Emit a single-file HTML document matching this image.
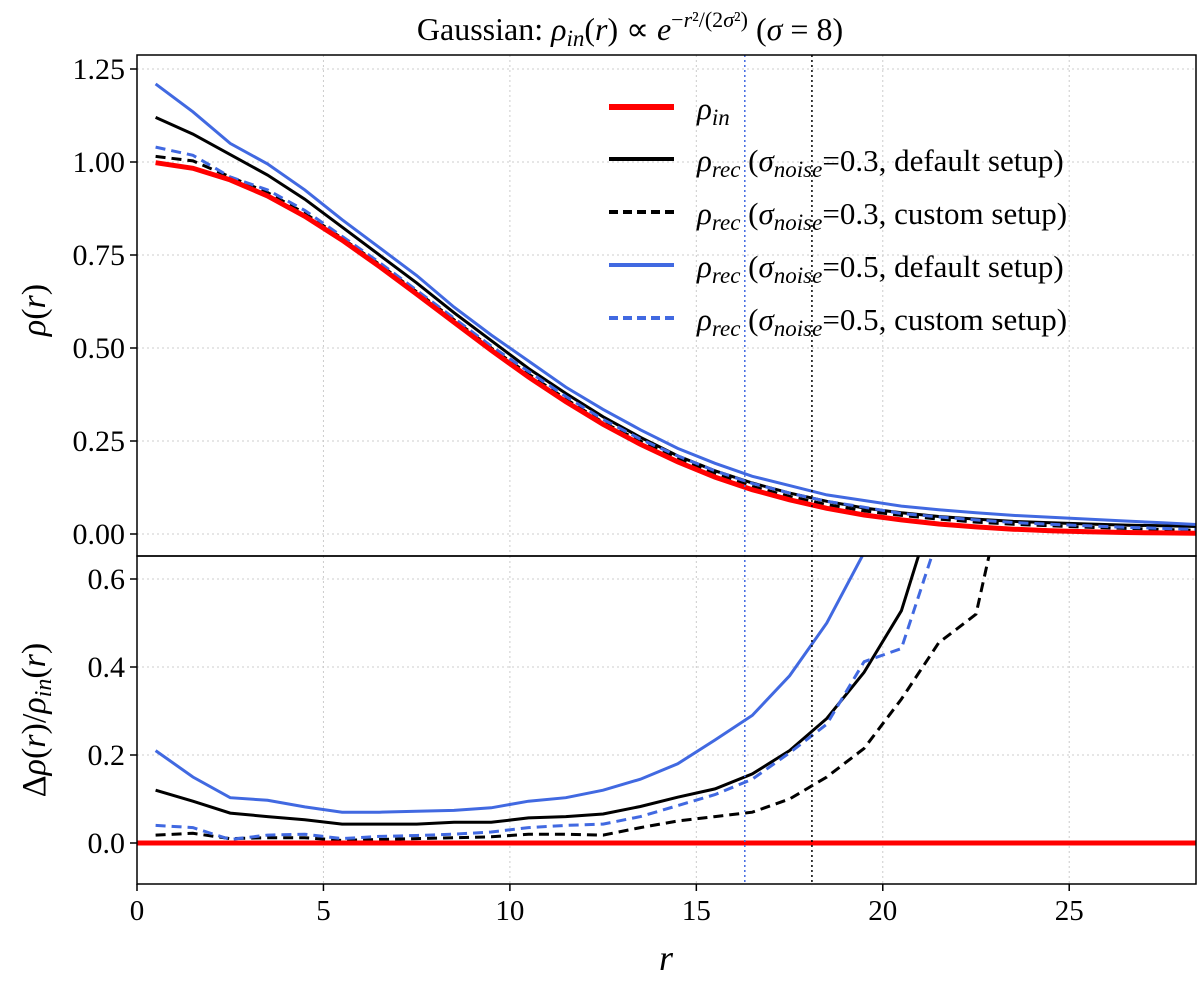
<!DOCTYPE html>
<html><head><meta charset="utf-8"><style>
html,body{margin:0;padding:0;background:#fff;}
svg{display:block;font-family:"Liberation Serif",serif;}
</style></head><body>
<svg id="chart" width="1200" height="983" viewBox="0 0 1200 983">
<defs>
<clipPath id="clipTop"><rect x="137" y="55" width="1059" height="501"/></clipPath>
<clipPath id="clipBot"><rect x="137" y="556" width="1059" height="328"/></clipPath>
</defs>
<text x="630" y="40" font-size="32" text-anchor="middle">Gaussian: <tspan font-style="italic">ρ<tspan font-size="23" dy="6">in</tspan></tspan><tspan dy="-6">(</tspan><tspan font-style="italic">r</tspan>) ∝ <tspan font-style="italic">e</tspan><tspan font-size="22" dy="-13">−<tspan font-style="italic">r</tspan>²/(2<tspan font-style="italic">σ</tspan>²)</tspan><tspan dy="13"> (</tspan><tspan font-style="italic">σ</tspan> = 8)</text>
<g id="gridTop"></g>
<g id="gridBot"></g>
<g id="topPanel" clip-path="url(#clipTop)"></g>
<g id="botPanel" clip-path="url(#clipBot)"></g>
<g id="axes"></g>
<text x="45" y="310" font-size="34" text-anchor="middle" transform="rotate(-90 45 310)"><tspan font-style="italic">ρ</tspan>(<tspan font-style="italic">r</tspan>)</text>
<text x="45" y="720" font-size="34" text-anchor="middle" transform="rotate(-90 45 720)">Δ<tspan font-style="italic">ρ</tspan>(<tspan font-style="italic">r</tspan>)/<tspan font-style="italic">ρ</tspan><tspan font-style="italic" font-size="24" dy="6">in</tspan><tspan dy="-6">(</tspan><tspan font-style="italic">r</tspan>)</text>
<text x="666" y="970" font-size="36" text-anchor="middle" font-style="italic">r</text>
<g id="legend"></g>
</svg>
<script>
const rVals=[0.5,1.5,2.5,3.5,4.5,5.5,6.5,7.5,8.5,9.5,10.5,11.5,12.5,13.5,14.5,15.5,16.5,17.5,18.5,19.5,20.5,21.5,22.5,23.5,24.5,25.5,26.5,27.5,28.5];
const rhoIn=[0.998,0.983,0.952,0.909,0.854,0.790,0.719,0.645,0.569,0.494,0.422,0.356,0.295,0.241,0.194,0.153,0.119,0.092,0.069,0.051,0.038,0.027,0.019,0.013,0.009,0.006,0.004,0.003,0.002];
const recBlackDef=[1.12,1.075,1.02,0.965,0.90,0.825,0.75,0.675,0.595,0.52,0.445,0.378,0.315,0.26,0.21,0.17,0.137,0.11,0.088,0.07,0.057,0.047,0.04,0.034,0.03,0.027,0.024,0.022,0.02];
const recBlackCus=[1.015,1.003,0.96,0.918,0.862,0.795,0.725,0.651,0.576,0.5,0.43,0.363,0.3,0.25,0.203,0.162,0.128,0.101,0.079,0.062,0.05,0.04,0.032,0.026,0.022,0.018,0.015,0.012,0.01];
const recBlueDef=[1.21,1.135,1.05,0.995,0.925,0.845,0.77,0.695,0.61,0.535,0.465,0.395,0.335,0.28,0.23,0.19,0.155,0.13,0.105,0.09,0.075,0.065,0.057,0.05,0.045,0.04,0.035,0.03,0.025];
const recBlueCus=[1.04,1.018,0.96,0.925,0.87,0.8,0.73,0.655,0.58,0.505,0.437,0.37,0.308,0.255,0.21,0.17,0.136,0.11,0.088,0.072,0.055,0.046,0.038,0.031,0.026,0.022,0.018,0.015,0.012];
const errBlackDef=[0.12,0.095,0.068,0.06,0.053,0.043,0.043,0.043,0.047,0.047,0.057,0.06,0.066,0.083,0.104,0.123,0.157,0.21,0.283,0.388,0.528,0.8,1.0,1.3,1.6,2,2.5,3,3.5];
const errBlackCus=[0.018,0.022,0.01,0.012,0.012,0.006,0.008,0.01,0.012,0.014,0.02,0.02,0.018,0.035,0.05,0.06,0.07,0.1,0.15,0.215,0.327,0.455,0.52,0.9,1.2,1.6,2,2.5,3];
const errBlueDef=[0.21,0.15,0.103,0.097,0.082,0.07,0.07,0.072,0.074,0.08,0.095,0.103,0.12,0.145,0.18,0.234,0.29,0.38,0.5,0.66,1.0,1.4,1.9,2.5,3,4,5,6,7];
const errBlueCus=[0.04,0.035,0.008,0.018,0.02,0.01,0.015,0.017,0.02,0.025,0.035,0.04,0.043,0.06,0.085,0.11,0.145,0.205,0.27,0.412,0.442,0.7,1.0,1.3,1.7,2.2,2.8,3.5,4];
const errIn=rVals.map(()=>0);
const xTicks=[0,5,10,15,20,25];
const yTopTicks=[0,0.25,0.5,0.75,1.0,1.25];
const yTopLabels=["0.00","0.25","0.50","0.75","1.00","1.25"];
const yBotTicks=[0,0.2,0.4,0.6];
const yBotLabels=["0.0","0.2","0.4","0.6"];
const vlines=[[16.3,"#4169e1"],[18.1,"#000"]];

const NS="http://www.w3.org/2000/svg";
const L=137,R=1196,T=55,M=556,B=884;
const X=v=>L+v*(R-L)/28.4;
const YT=v=>534-v*372;
const YB=v=>843-v*440;
function mk(tag,attrs,parent){const e=document.createElementNS(NS,tag);for(const k in attrs)e.setAttribute(k,attrs[k]);parent.appendChild(e);return e;}
const gT=document.getElementById('gridTop'),gB=document.getElementById('gridBot'),ax=document.getElementById('axes');
const topG=document.getElementById('topPanel'),botG=document.getElementById('botPanel'),leg=document.getElementById('legend');
xTicks.forEach(t=>{
  let g1=mk('line',{x1:X(t),x2:X(t),y1:T,y2:M,stroke:'#ccc','stroke-dasharray':'2,3','stroke-width':1},gT);
  
  
  let g2=mk('line',{x1:X(t),x2:X(t),y1:M,y2:B,stroke:'#ccc','stroke-dasharray':'2,3','stroke-width':1},gB);
  
  
  let tk=mk('line',{x1:X(t),x2:X(t),y1:B,y2:B+7,stroke:'#000','stroke-width':1.5},ax);
  
  
  let tx=mk('text',{x:X(t),y:B+36,'font-size':29,'text-anchor':'middle'},ax);tx.textContent=t;
  
  
});
yTopTicks.forEach((t,i)=>{
  let g=mk('line',{x1:L,x2:R,y1:YT(t),y2:YT(t),stroke:'#ccc','stroke-dasharray':'2,3'},gT);
  
  
  let tk=mk('line',{x1:L-7,x2:L,y1:YT(t),y2:YT(t),stroke:'#000','stroke-width':1.5},ax);
  
  
  let tx=mk('text',{x:L-12,y:YT(t)+10,'font-size':30,'text-anchor':'end'},ax);tx.textContent=yTopLabels[i];
  
  
});
yBotTicks.forEach((t,i)=>{
  let g=mk('line',{x1:L,x2:R,y1:YB(t),y2:YB(t),stroke:'#ccc','stroke-dasharray':'2,3'},gB);
  
  
  let tk=mk('line',{x1:L-7,x2:L,y1:YB(t),y2:YB(t),stroke:'#000','stroke-width':1.5},ax);
  
  
  let tx=mk('text',{x:L-12,y:YB(t)+10,'font-size':30,'text-anchor':'end'},ax);tx.textContent=yBotLabels[i];
  
  
});
vlines.forEach(([v,c])=>{
  let a=mk('line',{x1:X(v),x2:X(v),y1:T,y2:B,stroke:c,'stroke-dasharray':'2,3','stroke-width':1.5},ax);
  
  
});
const series=[
 {top:rhoIn,err:errIn,c:'#ff0000',w:5,d:'',name:'rho-in'},
 {top:recBlackDef,err:errBlackDef,c:'#000',w:3,d:'',name:'rec-0.3-default'},
 {top:recBlackCus,err:errBlackCus,c:'#000',w:3,d:'10,6',name:'rec-0.3-custom'},
 {top:recBlueDef,err:errBlueDef,c:'#4169e1',w:3,d:'',name:'rec-0.5-default'},
 {top:recBlueCus,err:errBlueCus,c:'#4169e1',w:3,d:'10,6',name:'rec-0.5-custom'}
];
const drawOrder=[1,2,3,4,0];
drawOrder.forEach(i=>{
  const s=series[i];
  const pT=s.top.map((v,j)=>X(rVals[j]).toFixed(1)+','+YT(v).toFixed(1)).join(' ');
  let a=mk('polyline',{points:pT,fill:'none',stroke:s.c,'stroke-width':s.w,'stroke-dasharray':s.d},topG);
  
  
  const pB=(i===0)?(X(0)+','+YB(0)+' '+R+','+YB(0)):s.err.map((v,j)=>X(rVals[j]).toFixed(1)+','+YB(v).toFixed(1)).join(' ');
  let b=mk('polyline',{points:pB,fill:'none',stroke:s.c,'stroke-width':s.w,'stroke-dasharray':s.d},botG);
  
  
});
let f1=mk('rect',{x:L,y:T,width:R-L,height:M-T,fill:'none',stroke:'#000','stroke-width':1.5},ax);


let f2=mk('rect',{x:L,y:M,width:R-L,height:B-M,fill:'none',stroke:'#000','stroke-width':1.5},ax);


const legText=[
 '<tspan font-style="italic">ρ</tspan><tspan font-style="italic" font-size="23" dy="6">in</tspan>',
 '<tspan font-style="italic">ρ</tspan><tspan font-style="italic" font-size="23" dy="6">rec</tspan><tspan dy="-6"> (</tspan><tspan font-style="italic">σ</tspan><tspan font-style="italic" font-size="23" dy="6">noise</tspan><tspan dy="-6">=0.3, default setup)</tspan>',
 '<tspan font-style="italic">ρ</tspan><tspan font-style="italic" font-size="23" dy="6">rec</tspan><tspan dy="-6"> (</tspan><tspan font-style="italic">σ</tspan><tspan font-style="italic" font-size="23" dy="6">noise</tspan><tspan dy="-6">=0.3, custom setup)</tspan>',
 '<tspan font-style="italic">ρ</tspan><tspan font-style="italic" font-size="23" dy="6">rec</tspan><tspan dy="-6"> (</tspan><tspan font-style="italic">σ</tspan><tspan font-style="italic" font-size="23" dy="6">noise</tspan><tspan dy="-6">=0.5, default setup)</tspan>',
 '<tspan font-style="italic">ρ</tspan><tspan font-style="italic" font-size="23" dy="6">rec</tspan><tspan dy="-6"> (</tspan><tspan font-style="italic">σ</tspan><tspan font-style="italic" font-size="23" dy="6">noise</tspan><tspan dy="-6">=0.5, custom setup)</tspan>'
];
const legY=[107,159,212,265,318];
series.forEach((s,i)=>{
  let l=mk('line',{x1:609,x2:674,y1:legY[i],y2:legY[i],stroke:s.c,'stroke-width':s.w+1,'stroke-dasharray':s.d?'9,5':''},leg);
  
  
  let t=mk('text',{x:697,y:legY[i]+12,'font-size':31},leg);t.innerHTML=legText[i];
  
  
});
</script>
</body></html>
